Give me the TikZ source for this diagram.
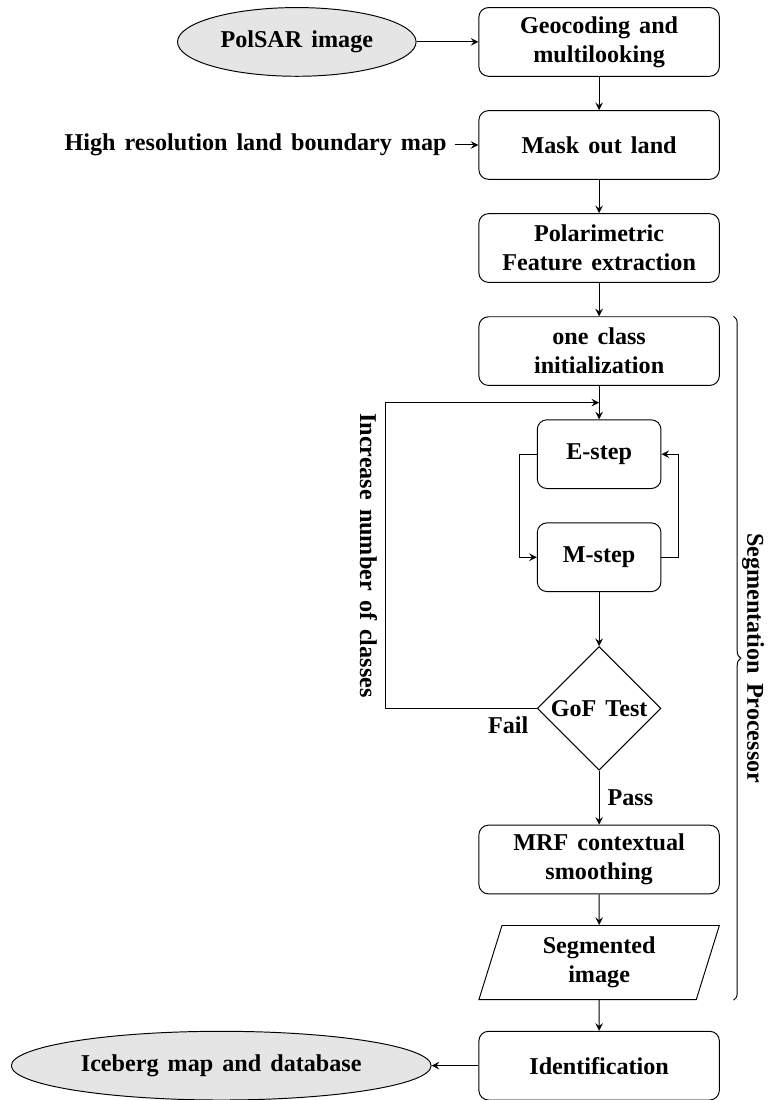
\documentclass[tikz,border=0pt]{standalone}
\usepackage{fontspec}
\setmainfont[WordSpace=1.5]{Liberation Serif}
\usepackage{tikz}
\usetikzlibrary{shapes.geometric,calc,decorations.pathreplacing}

\begin{document}
\begin{tikzpicture}[node distance=1.5cm, >=stealth, font=\bfseries,
  block/.style={rectangle, draw, rounded corners, minimum width=3.5cm, minimum height=1cm, align=center},
  emblock/.style={rectangle, draw, rounded corners, minimum width=1.8cm, minimum height=1cm, align=center},
  io/.style={ellipse, draw, fill=gray!20, minimum height=1cm}]
\useasboundingbox (-8.72,0.61) rectangle (2.61,-15.40);
\node (geo) [block] {Geocoding and\\multilooking};
\node (polsar) [io, node distance=4.4cm, left of=geo] {PolSAR image};
\node (mask) [block, below of=geo] {Mask out land};
\node (landmap) [node distance=5cm, left of=mask] {High resolution land boundary map};
\node (feat) [block, below of=mask] {Polarimetric\\Feature extraction};
\node (init) [block, below of=feat] {one class\\initialization};
\node (estep) [emblock, below of=init] {E-step};
\node (mstep) [emblock, below of=estep] {M-step};
\node (gof) [diamond, draw, aspect=1, inner sep=0pt, minimum size=1.8cm, node distance=2.2cm, below of=mstep] {GoF Test};
\node (mrf) [block, node distance=2.2cm, below of=gof] {MRF contextual\\smoothing};
\node (seg) [trapezium, draw, trapezium left angle=71, trapezium right angle=109, trapezium stretches body, minimum width=3.5cm, minimum height=1.08cm, align=center, below of=mrf] {Segmented\\image};
\node (ident) [block, below of=seg] {Identification};
\node (iceberg) [io, node distance=5.5cm, left of=ident] {Iceberg map and database};

\coordinate (loopin) at ($(init.south)!0.5!(estep.north)$);
\coordinate (loopcorner) at ([xshift=-2.2cm]gof.west);
\coordinate (bracetop) at ([xshift=0.2cm]init.north east);
\coordinate (bracebot) at (bracetop |- seg.south);

\draw[->] (polsar) -- (geo);
\draw[->] (geo) -- (mask);
\draw[->] (landmap) -- (mask);
\draw[->] (mask) -- (feat);
\draw[->] (feat) -- (init);
\draw[->] (init) -- (estep);
\draw[->] (estep.west) -- ++(-0.25cm,0) |- (mstep.west);
\draw[->] (mstep.east) -- ++(0.25cm,0) |- (estep.east);
\draw[->] (mstep) -- (gof);
\draw[->] (gof.west) node[below left] {Fail} -- (loopcorner) -- node[midway, rotate=-90, anchor=north] {Increase number of classes} (loopcorner |- loopin) -- (loopin);
\draw[->] (gof) -- node[right] {Pass} (mrf);
\draw[->] (mrf) -- (seg);
\draw[->] (seg) -- (ident);
\draw[->] (ident) -- (iceberg);

\draw[decorate, decoration={brace, amplitude=3pt}] (bracetop) -- (bracebot) node[midway, rotate=-90, anchor=south] {Segmentation Processor};
\end{tikzpicture}
\end{document}
